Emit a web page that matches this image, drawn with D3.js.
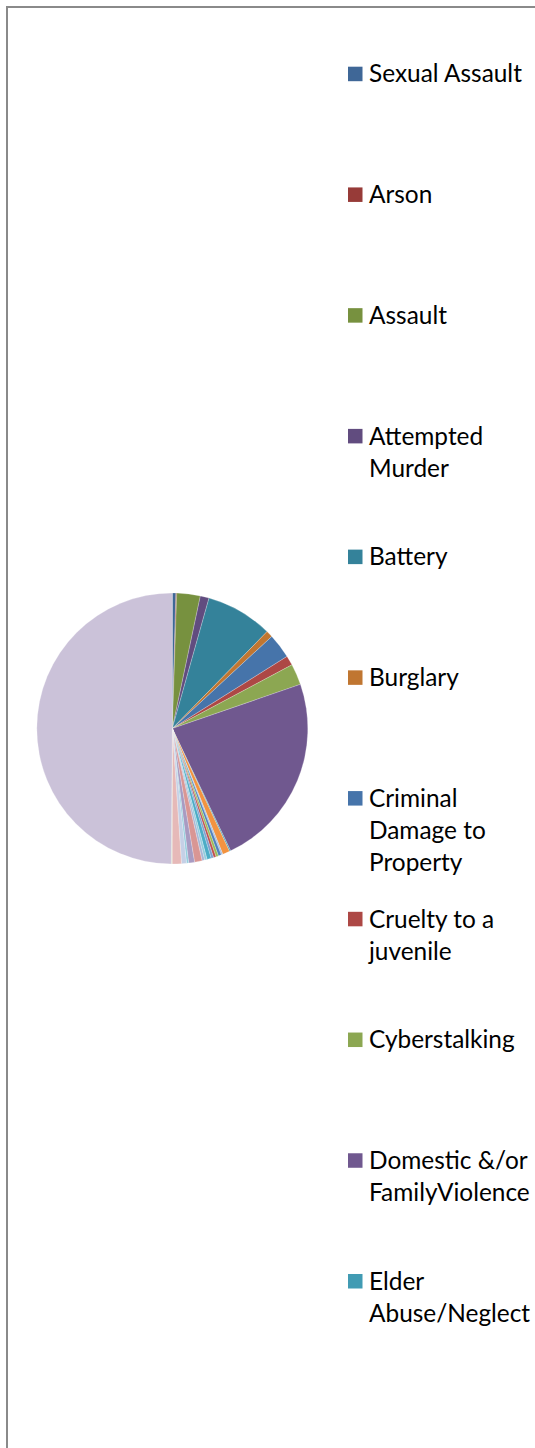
<!DOCTYPE html>
<html>
<head>
<meta charset="utf-8">
<script src="https://cdn.jsdelivr.net/npm/d3@7"></script>
<style>
  html, body { margin: 0; padding: 0; background: #ffffff; }
  svg { display: block; }
</style>
</head>
<body>
<svg id="chart" width="535" height="1448"></svg>
<script>
// ---- Data (percent shares, clockwise from 12 o'clock) ----
const categories = [
  "Sexual Assault", "Arson", "Assault", "Attempted Murder", "Battery",
  "Burglary", "Criminal Damage to Property", "Cruelty to a juvenile",
  "Cyberstalking", "Domestic &/or FamilyViolence", "Elder Abuse/Neglect",
  "Embezzlement", "Extortion", "Forgery", "Fraud", "Harassment",
  "Hate Crime", "Homicide", "Human Trafficking", "Identity Theft",
  "Kidnapping", "Robbery", "Stalking", "Stolen Property", "Theft",
  "Vehicle Theft", "Other"
];
const values = [
  0.42, 0.10, 2.80, 1.05, 7.95,
  0.80, 2.95, 1.15,
  2.50, 23.20, 0.15,
  0.85, 0.20, 0.35, 0.30, 0.30,
  0.30, 0.50, 0.30, 0.30,
  0.90, 0.70, 0.25, 0.60, 1.10,
  0.10, 49.88
];
const colors = [
  "#3f6797", "#973b38", "#77913f", "#614c7f", "#34829a",
  "#c07631", "#4674aa", "#ad4845", "#8ca752", "#70588f", "#419bb3",
  "#f29340", "#a9c0e0", "#4f81bd", "#9bbb59", "#c0504d",
  "#7f9fce", "#4bacc6", "#93cddd", "#a5b6d6",
  "#d99694", "#a89bc2", "#93cddd", "#c5d0e6", "#e6b9b8",
  "#d7e4bd", "#cbc2d9"
];
const legendCount = 11; // legend is cut off after the 11th entry

// ---- Layout ----
const svg = d3.select("#chart");
const cx = 172.3, cy = 728.5, R = 135.5;

// frame (right and bottom edges fall outside the picture)
svg.append("rect")
  .attr("x", 7).attr("y", 7)
  .attr("width", 700).attr("height", 1600)
  .attr("fill", "none")
  .attr("stroke", "#8a8a8a")
  .attr("stroke-width", 2);

// ---- Pie ----
const data = categories.map((c, i) => ({ name: c, value: values[i], color: colors[i] }));
const pie = d3.pie().value(d => d.value).sort(null);
const arc = d3.arc().innerRadius(0).outerRadius(R);

svg.append("g")
  .attr("transform", `translate(${cx},${cy})`)
  .selectAll("path")
  .data(pie(data))
  .join("path")
  .attr("d", arc)
  .attr("fill", d => d.data.color)
  .attr("stroke", "#ffffff")
  .attr("stroke-opacity", 0.45)
  .attr("stroke-width", 0.5);

// ---- Legend ----
const fontFamily = "Lato, 'Open Sans', 'Liberation Sans', sans-serif";
// fit the font size so that "Sexual Assault" is ~153px wide, like the reference
const probe = svg.append("text").attr("font-family", fontFamily).attr("font-size", 100).text(categories[0]);
const probeW = probe.node().getComputedTextLength();
probe.remove();
const fontSize = Math.min(26, 100 * 153 / probeW);

const legendX = 348, swatch = 14.5, textX = 369;
const legendTop = 66.7, legendStep = 120.73, lineH = 32;
const maxTextW = 535 - textX - 1;

const lg = svg.append("g").attr("font-family", fontFamily).attr("font-size", fontSize).attr("fill", "#000");

function wrapWords(str) {
  const words = str.split(" ");
  const lines = [];
  let cur = "";
  const t = lg.append("text");
  words.forEach(w => {
    const test = cur ? cur + " " + w : w;
    t.text(test);
    if (t.node().getComputedTextLength() > maxTextW && cur) {
      lines.push(cur);
      cur = w;
    } else {
      cur = test;
    }
  });
  if (cur) lines.push(cur);
  t.remove();
  return lines;
}

data.slice(0, legendCount).forEach((d, i) => {
  const y0 = legendTop + i * legendStep;
  lg.append("rect")
    .attr("x", legendX).attr("y", y0)
    .attr("width", swatch).attr("height", swatch)
    .attr("fill", d.color);
  const lines = wrapWords(d.name);
  const txt = lg.append("text").attr("x", textX).attr("y", y0 + swatch + 1.2);
  lines.forEach((ln, j) => {
    txt.append("tspan").attr("x", textX).attr("y", y0 + swatch + 1.2 + j * lineH).text(ln);
  });
});
</script>
</body>
</html>
